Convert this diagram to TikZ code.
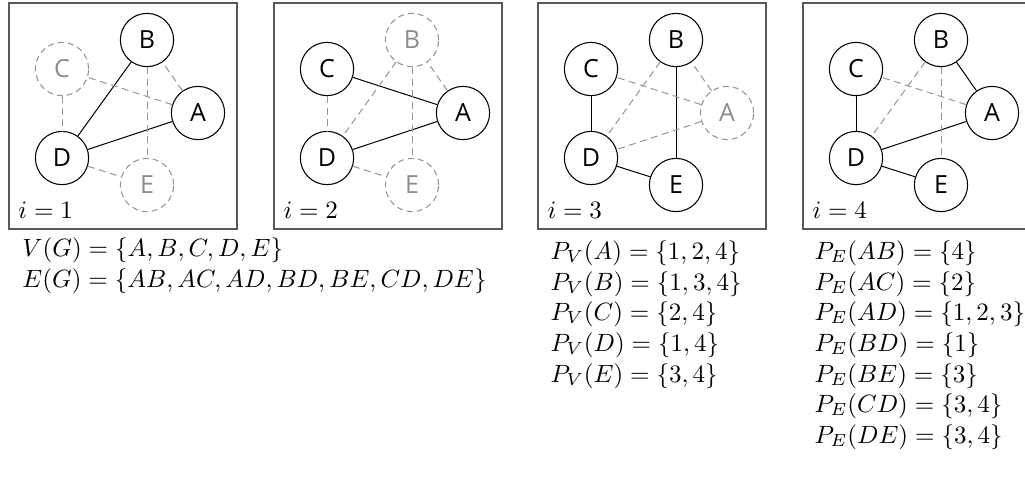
\documentclass[tikz,border=0pt]{standalone}
\usepackage{fontspec}
\newfontfamily\nodefont{Open Sans}
\begin{document}
\begin{tikzpicture}[x=0.4pt,y=-0.4pt,
  vin/.style={circle,draw,minimum size=21.3pt,inner sep=0pt,font=\nodefont,line width=0.42pt},
  vout/.style={vin,draw=black!42,text=black!45,dash pattern=on 2.4pt off 1.6pt},
  eon/.style={draw,line width=0.4pt},
  eoff/.style={draw=black!42,line width=0.4pt,dash pattern=on 2.8pt off 1.8pt},
  frame/.style={draw=black!65,line width=0.6pt},
  lbl/.style={anchor=base west,inner sep=0pt}]
\useasboundingbox (0,0) rectangle (1025,487);
% ---------- panel 1
\begin{scope}[shift={(9,0)}]
\draw[frame] (0,3) rectangle (228,229);
\node[vin]  (b1) at (138,40) {B};
\node[vout] (c1) at (53,69) {C};
\node[vin]  (a1) at (189,113) {A};
\node[vin]  (d1) at (53,158) {D};
\node[vout] (e1) at (138,185) {E};
\node[lbl] (i1) at (9,218) {$i=1$};
\draw[eon] (a1) -- (d1);
\draw[eon] (b1) -- (d1);
\draw[eoff] (a1) -- (b1);
\draw[eoff] (a1) -- (c1);
\draw[eoff] (b1) -- (e1);
\draw[eoff] (c1) -- (d1);
\draw[eoff] (d1) -- (e1);
\end{scope}
% ---------- panel 2
\begin{scope}[shift={(274,0)}]
\draw[frame] (0,3) rectangle (228,229);
\node[vout] (b2) at (138,40) {B};
\node[vin]  (c2) at (53,69) {C};
\node[vin]  (a2) at (189,113) {A};
\node[vin]  (d2) at (53,158) {D};
\node[vout] (e2) at (138,185) {E};
\node[lbl] (i2) at (9,218) {$i=2$};
\draw[eon] (a2) -- (c2);
\draw[eon] (a2) -- (d2);
\draw[eoff] (a2) -- (b2);
\draw[eoff] (b2) -- (d2);
\draw[eoff] (b2) -- (e2);
\draw[eoff] (c2) -- (d2);
\draw[eoff] (d2) -- (e2);
\end{scope}
% ---------- panel 3
\begin{scope}[shift={(538,0)}]
\draw[frame] (0,3) rectangle (228,229);
\node[vin]  (b3) at (138,40) {B};
\node[vin]  (c3) at (53,69) {C};
\node[vout] (a3) at (189,113) {A};
\node[vin]  (d3) at (53,158) {D};
\node[vin]  (e3) at (138,185) {E};
\node[lbl] (i3) at (9,218) {$i=3$};
\draw[eon] (b3) -- (e3);
\draw[eon] (c3) -- (d3);
\draw[eon] (d3) -- (e3);
\draw[eoff] (a3) -- (b3);
\draw[eoff] (a3) -- (c3);
\draw[eoff] (a3) -- (d3);
\draw[eoff] (b3) -- (d3);
\end{scope}
% ---------- panel 4
\begin{scope}[shift={(803,0)}]
\draw[frame] (0,3) rectangle (228,229);
\node[vin] (b4) at (138,40) {B};
\node[vin] (c4) at (53,69) {C};
\node[vin] (a4) at (189,113) {A};
\node[vin] (d4) at (53,158) {D};
\node[vin] (e4) at (138,185) {E};
\node[lbl] (i4) at (9,218) {$i=4$};
\draw[eon] (a4) -- (b4);
\draw[eon] (a4) -- (d4);
\draw[eon] (c4) -- (d4);
\draw[eon] (d4) -- (e4);
\draw[eoff] (a4) -- (c4);
\draw[eoff] (b4) -- (d4);
\draw[eoff] (b4) -- (e4);
\end{scope}
% ---------- texts
\node[lbl] (vg) at (22,256) {$V(G)=\{A,B,C,D,E\}$};
\node[lbl] (eg) at (22,287) {$E(G)=\{AB,AC,AD,BD,BE,CD,DE\}$};
\node[lbl] (pva) at (550,259) {$P_V(A)=\{1,2,4\}$};
\node[lbl] (pvb) at (550,290) {$P_V(B)=\{1,3,4\}$};
\node[lbl] (pvc) at (550,320) {$P_V(C)=\{2,4\}$};
\node[lbl] (pvd) at (550,351) {$P_V(D)=\{1,4\}$};
\node[lbl] (pve) at (550,382) {$P_V(E)=\{3,4\}$};
\node[lbl] (peab) at (814,259) {$P_E(AB)=\{4\}$};
\node[lbl] (peac) at (814,290) {$P_E(AC)=\{2\}$};
\node[lbl] (pead) at (814,320) {$P_E(AD)=\{1,2,3\}$};
\node[lbl] (pebd) at (814,351) {$P_E(BD)=\{1\}$};
\node[lbl] (pebe) at (814,382) {$P_E(BE)=\{3\}$};
\node[lbl] (pecd) at (814,412) {$P_E(CD)=\{3,4\}$};
\node[lbl] (pede) at (814,443) {$P_E(DE)=\{3,4\}$};
\end{tikzpicture}
\end{document}
